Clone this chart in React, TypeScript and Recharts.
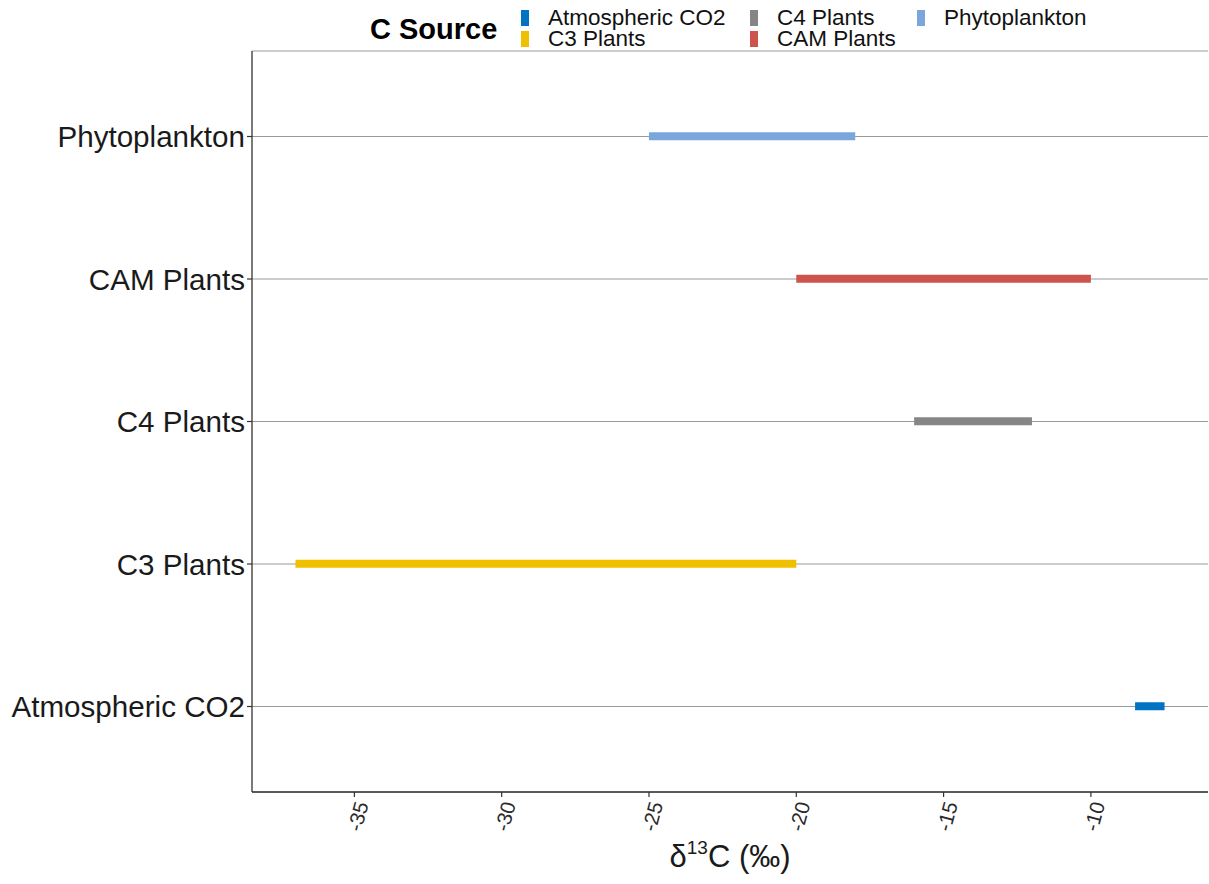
import { BarChart, Bar, XAxis, YAxis, CartesianGrid, Cell, Label } from "recharts";

const sources = ["Atmospheric CO2", "C3 Plants", "C4 Plants", "CAM Plants", "Phytoplankton"];
const lowValues = [-8.5, -37, -16, -20, -25];
const highValues = [-7.5, -20, -12, -10, -18];
const sourceColors = ["#0073C2", "#EFC000", "#868686", "#CD534C", "#7AA6DC"];
const xTicks = [-35, -30, -25, -20, -15, -10];
const xDomain = [-38.475, -6.025];

const data = sources.map((s, i) => ({ source: s, range: [lowValues[i], highValues[i]] }));

function XTick({ x, y, payload }: any) {
  const ax = x + 7;
  const ay = y + 3;
  return (
    <text
      x={ax}
      y={ay}
      transform={`rotate(-75, ${ax}, ${ay})`}
      textAnchor="end"
      dominantBaseline="central"
      fontSize={20.5}
      fill="#2a2a2a"
    >
      {payload.value}
    </text>
  );
}

function AxisTitle({ viewBox }: any) {
  const cx = viewBox.x + viewBox.width / 2;
  return (
    <text x={cx} y={viewBox.y + 75} textAnchor="middle" fontSize={31} fill="#1a1a1a">
      δ
      <tspan dy={-13} fontSize={19}>13</tspan>
      <tspan dy={13} fontSize={31}>C (‰)</tspan>
    </text>
  );
}

function LegendBox() {
  return (
    <>
      <div
        style={{
          position: "absolute",
          left: 370,
          top: 15,
          fontSize: 29,
          fontWeight: "bold",
          lineHeight: 1,
          color: "#000",
        }}
      >
        C Source
      </div>
      <div
        style={{
          position: "absolute",
          left: 521,
          top: 7,
          display: "grid",
          gridTemplateRows: "21px 21px",
          gridTemplateColumns: "229px 167px auto",
          gridAutoFlow: "column",
        }}
      >
        {sources.map((s, i) => (
          <div key={s} style={{ display: "flex", alignItems: "center", height: 21 }}>
            <span
              style={{
                display: "inline-block",
                width: 7.5,
                height: 16,
                background: sourceColors[i],
                marginRight: 19.5,
              }}
            />
            <span style={{ fontSize: 22.5, lineHeight: "21px", whiteSpace: "nowrap", color: "#111" }}>{s}</span>
          </div>
        ))}
      </div>
    </>
  );
}

export default function App() {
  return (
    <div
      style={{
        position: "absolute",
        left: 0,
        top: 0,
        width: 1209,
        height: 884,
        background: "#fff",
        fontFamily: "'Liberation Sans', Arial, sans-serif",
      }}
    >
      <BarChart
        width={1209}
        height={884}
        data={data}
        layout="vertical"
        margin={{ top: 51, right: 1, bottom: 0, left: 0 }}
      >
        <CartesianGrid vertical={false} stroke="#9a9a9a" strokeWidth={1} />
        <XAxis
          type="number"
          domain={xDomain}
          ticks={xTicks}
          allowDataOverflow
          height={92}
          tickSize={5}
          tick={<XTick />}
          axisLine={{ stroke: "#333", strokeWidth: 1.3 }}
          tickLine={{ stroke: "#333", strokeWidth: 1.2 }}
        >
          <Label content={<AxisTitle />} />
        </XAxis>
        <YAxis
          type="category"
          dataKey="source"
          reversed
          width={252}
          tickSize={5}
          padding={{ top: 14.25, bottom: 14.25 }}
          tick={{ fontSize: 29.6, fill: "#1a1a1a" }}
          axisLine={{ stroke: "#333", strokeWidth: 1.3 }}
          tickLine={{ stroke: "#333", strokeWidth: 1.2 }}
        />
        <Bar dataKey="range" barSize={8} isAnimationActive={false}>
          {data.map((d, i) => (
            <Cell key={d.source} fill={sourceColors[i]} />
          ))}
        </Bar>
      </BarChart>
      <LegendBox />
    </div>
  );
}
